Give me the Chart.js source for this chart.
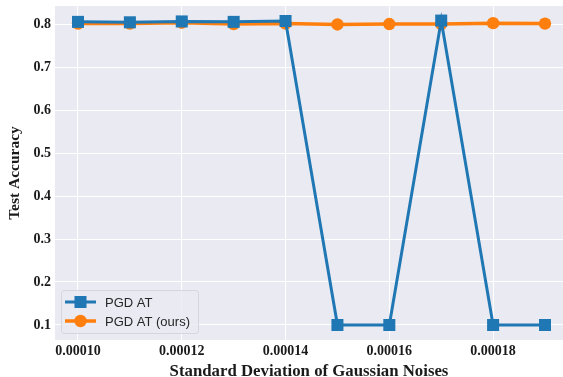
<!DOCTYPE html>
<html>
<head>
<meta charset="utf-8">
<script src="https://cdn.jsdelivr.net/npm/chart.js@4/dist/chart.umd.min.js"></script>
<style>
  html, body { margin: 0; padding: 0; background: #fff; }
  #wrap { width: 563px; height: 377px; }
</style>
</head>
<body>
<div id="wrap"><canvas id="chart" width="563" height="377"></canvas></div>
<script>
// noise std values on the x axis
const noiseStd = [0.0001, 0.00011, 0.00012, 0.00013, 0.00014, 0.00015, 0.00016, 0.00017, 0.00018, 0.00019];
const pgdAt = [0.805, 0.804, 0.806, 0.805, 0.807, 0.1, 0.1, 0.808, 0.1, 0.1];
const pgdAtOurs = [0.801, 0.801, 0.803, 0.8, 0.801, 0.799, 0.8, 0.8, 0.802, 0.801];
const xTicks = [0.0001, 0.00012, 0.00014, 0.00016, 0.00018];
const yTicks = [0.1, 0.2, 0.3, 0.4, 0.5, 0.6, 0.7, 0.8];
const labels = ["PGD AT", "PGD AT (ours)"];

const blue = "#1f77b4";
const orange = "#ff7f0e";
const serif = "'Liberation Serif', 'DejaVu Serif', serif";
const tickFont = { family: serif, size: 14, weight: "bold" };

/*
 * seaborn-like grey background behind the plot area.
 */
const plotBackground = {
  id: "plotBackground",
  beforeDraw: (chart) => {
    const { ctx, chartArea } = chart;
    ctx.save();
    ctx.fillStyle = "#eaeaf2";
    ctx.fillRect(chartArea.left, chartArea.top, chartArea.right - chartArea.left, chartArea.bottom - chartArea.top);
    ctx.restore();
  },
};

/*
 * legend drawn inside the plot, lower left corner.
 */
const innerLegend = {
  id: "innerLegend",
  afterDraw: (chart) => {
    const { ctx, chartArea } = chart;
    const x = chartArea.left + 6;
    const y = chartArea.bottom - 50;
    const w = 137;
    const h = 43;
    ctx.save();
    ctx.fillStyle = "rgba(234,234,242,0.8)";
    ctx.strokeStyle = "#d6d6de";
    ctx.lineWidth = 1;
    ctx.beginPath();
    ctx.roundRect(x + 0.5, y + 0.5, w, h, 3);
    ctx.fill();
    ctx.stroke();
    ctx.font = "13px 'Liberation Sans', Arial, sans-serif";
    ctx.textBaseline = "middle";
    chart.data.datasets.forEach((ds, i) => {
      const rowY = y + 12 + i * 19;
      ctx.strokeStyle = ds.borderColor;
      ctx.lineWidth = ds.borderWidth;
      ctx.beginPath();
      ctx.moveTo(x + 4, rowY);
      ctx.lineTo(x + 35, rowY);
      ctx.stroke();
      ctx.fillStyle = ds.pointBackgroundColor;
      Chart.helpers.drawPoint(ctx, { pointStyle: ds.pointStyle, radius: ds.pointRadius, borderWidth: 0 }, x + 19.5, rowY);
      ctx.fillStyle = "#262626";
      ctx.fillText(ds.label, x + 44, rowY + 1);
    });
    ctx.restore();
  },
};

const ctx = document.getElementById("chart").getContext("2d");
const chart = new Chart(ctx, {
  type: "line",
  data: {
    datasets: [
      {
        label: labels[0],
        data: noiseStd.map((x, i) => ({ x, y: pgdAt[i] })),
        borderColor: blue,
        backgroundColor: blue,
        pointBackgroundColor: blue,
        pointBorderWidth: 0,
        borderWidth: 3,
        pointStyle: "rect",
        pointRadius: 8.5,
        tension: 0,
        clip: false,
      },
      {
        label: labels[1],
        data: noiseStd.map((x, i) => ({ x, y: pgdAtOurs[i] })),
        borderColor: orange,
        backgroundColor: orange,
        pointBackgroundColor: orange,
        pointBorderWidth: 0,
        borderWidth: 3.5,
        pointStyle: "circle",
        pointRadius: 6.2,
        tension: 0,
        clip: false,
      },
    ],
  },
  options: {
    responsive: false,
    animation: false,
    layout: { autoPadding: false, padding: { left: 0, right: 0, top: 6, bottom: 0 } },
    plugins: {
      legend: { display: false },
      tooltip: { enabled: false },
    },
    scales: {
      x: {
        type: "linear",
        min: 0.00009557,
        max: 0.00019347,
        afterBuildTicks: (scale) => {
          scale.ticks = xTicks.map((value) => ({ value }));
        },
        afterFit: (scale) => {
          scale.height = 37;
          scale.paddingLeft = 0;
          scale.paddingRight = 0;
        },
        border: { display: false },
        grid: { color: "#ffffff", lineWidth: 1, drawTicks: false },
        ticks: {
          color: "#1a1a1a",
          font: tickFont,
          padding: 3,
          maxRotation: 0,
          autoSkip: false,
          callback: (value) => value.toFixed(5),
        },
        title: {
          display: true,
          text: "Standard Deviation of Gaussian Noises",
          color: "#1a1a1a",
          font: { family: serif, size: 16.8, weight: "bold", lineHeight: 1 },
          padding: { top: 0, bottom: -3 },
        },
      },
      y: {
        min: 0.0651,
        max: 0.8419,
        afterBuildTicks: (scale) => {
          scale.ticks = yTicks.map((value) => ({ value }));
        },
        afterFit: (scale) => {
          scale.width = 55;
          scale.paddingTop = 0;
          scale.paddingBottom = 0;
        },
        border: { display: false },
        grid: { color: "#ffffff", lineWidth: 1, drawTicks: false },
        ticks: {
          color: "#1a1a1a",
          font: tickFont,
          padding: 4,
          callback: (value) => value.toFixed(1),
        },
        title: {
          display: true,
          text: "Test Accuracy",
          color: "#1a1a1a",
          font: { family: serif, size: 15.5, weight: "bold" },
          padding: { top: 6, bottom: 0 },
        },
      },
    },
  },
  plugins: [plotBackground, innerLegend],
});
</script>
</body>
</html>
